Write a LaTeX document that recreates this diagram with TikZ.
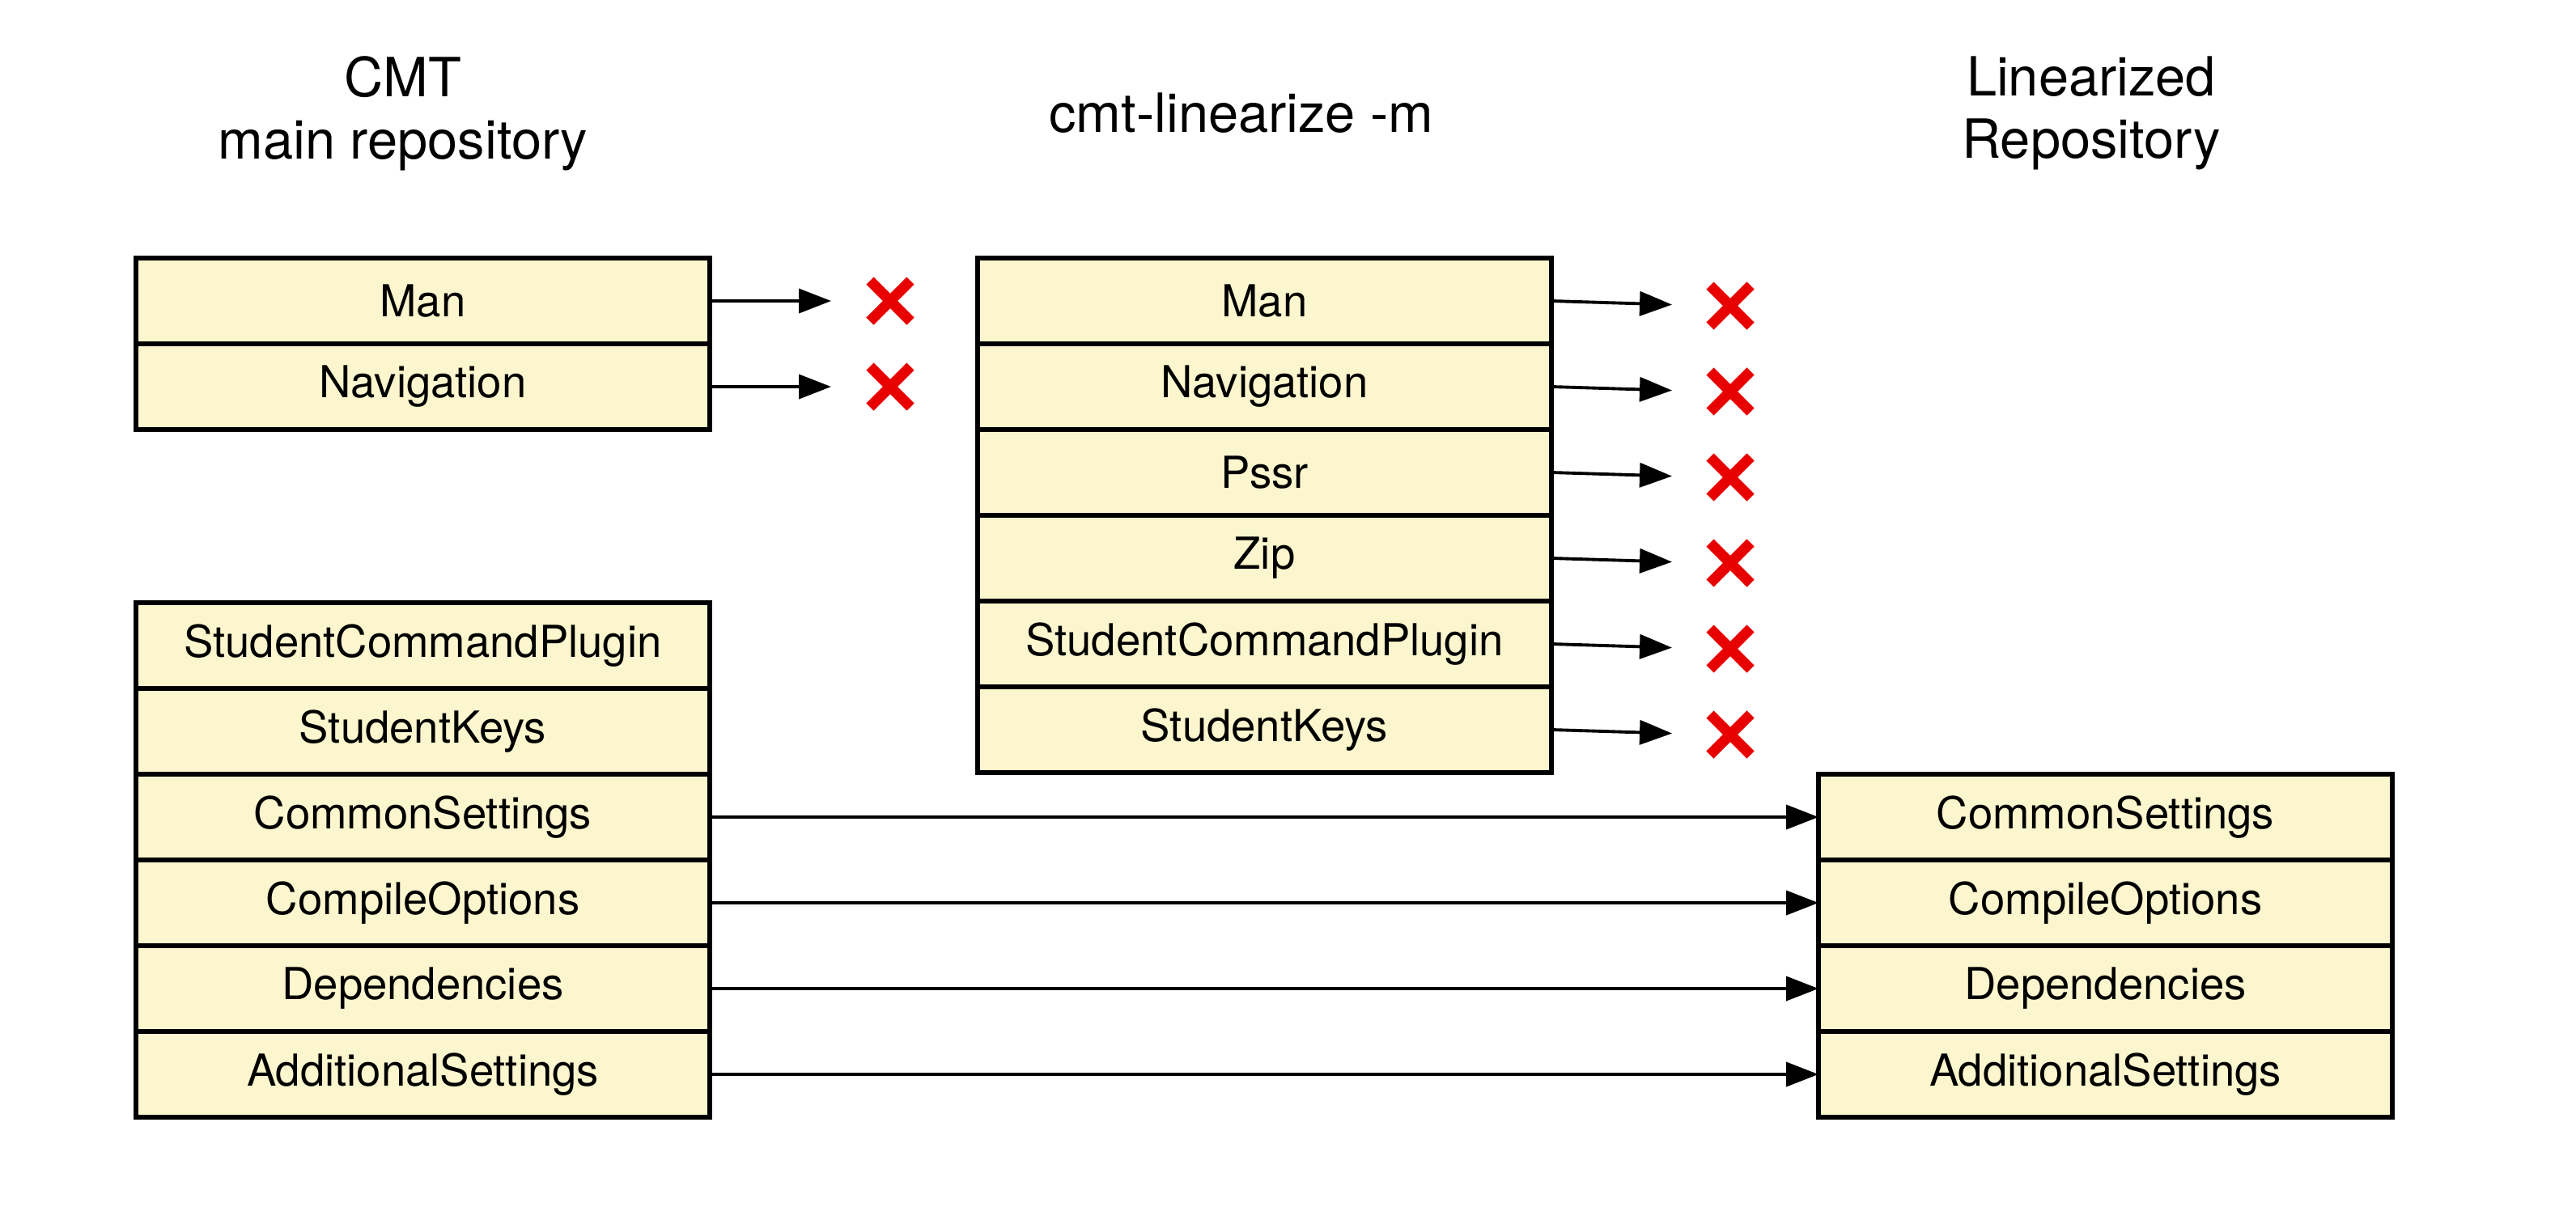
\documentclass[tikz,border=0pt]{standalone}
\usepackage{fontspec}
\setmainfont{TeX Gyre Heros}
\usepackage{xcolor}
\usepackage{tikz}
\usetikzlibrary{arrows.meta, positioning}

\definecolor{rowfill}{RGB}{251,246,206}
\definecolor{xred}{RGB}{232,0,0}

\tikzset{
    row/.style={draw, line width=1.5pt, fill=rowfill, minimum width=7.09cm, minimum height=1.06cm, inner sep=0pt, outer sep=0pt, font=\fontsize{15.5}{18}\selectfont},
    title/.style={align=center, font=\fontsize{19}{22}\selectfont},
    xbox/.style={minimum size=5mm, inner sep=0pt, outer sep=0pt},
    xline/.style={xred, line width=0.13cm},
}

\begin{document}
\begin{tikzpicture}[>={Triangle[length=4mm,width=3mm]}, line width=1.1pt]
    \useasboundingbox (0,0) rectangle (31.83,-14.91);

    % Titles
    \node (cmt) [title] at (4.98,-1.40) {CMT\\main repository};
    \node (lin) [title] at (15.34,-1.40) {cmt-linearize -m};
    \node (out) [title] at (25.84,-1.40) {Linearized\\Repository};

    % Nodes
    \node (t1) [row] at (5.225,-3.72) {Man};
    \node (t2) [row, below=0pt of t1] {Navigation};

    \node (b1) [row] at (5.225,-7.98) {StudentCommandPlugin};
    \node (b2) [row, below=0pt of b1] {StudentKeys};
    \node (b3) [row, below=0pt of b2] {CommonSettings};
    \node (b4) [row, below=0pt of b3] {CompileOptions};
    \node (b5) [row, below=0pt of b4] {Dependencies};
    \node (b6) [row, below=0pt of b5] {AdditionalSettings};

    \node (m1) [row, right=3.31cm of t1] {Man};
    \node (m2) [row, below=0pt of m1] {Navigation};
    \node (m3) [row, below=0pt of m2] {Pssr};
    \node (m4) [row, below=0pt of m3] {Zip};
    \node (m5) [row, below=0pt of m4] {StudentCommandPlugin};
    \node (m6) [row, below=0pt of m5] {StudentKeys};

    \node (r1) [row, right=13.7cm of b3] {CommonSettings};
    \node (r2) [row, below=0pt of r1] {CompileOptions};
    \node (r3) [row, below=0pt of r2] {Dependencies};
    \node (r4) [row, below=0pt of r3] {AdditionalSettings};

    % Crosses
    \node (xt1) [xbox, right=1.98cm of t1] {};
    \node (xt2) [xbox, right=1.98cm of t2] {};
    \foreach \i in {1,...,6}
        \node (xm\i) [xbox, right=1.96cm of m\i, yshift=-0.6mm] {};
    \foreach \n in {xt1,xt2,xm1,xm2,xm3,xm4,xm5,xm6}
        \draw[xline] (\n.south west) -- (\n.north east) (\n.north west) -- (\n.south east);

    % Data Flow
    \draw[->, shorten >=4.8mm] (t1) -- (xt1);
    \draw[->, shorten >=4.8mm] (t2) -- (xt2);
    \foreach \i in {1,...,6}
        \draw[->, shorten >=4.7mm] (m\i.east) -- (xm\i.west);
    \draw[->] (b3) -- (r1);
    \draw[->] (b4) -- (r2);
    \draw[->] (b5) -- (r3);
    \draw[->] (b6) -- (r4);
\end{tikzpicture}
\end{document}
